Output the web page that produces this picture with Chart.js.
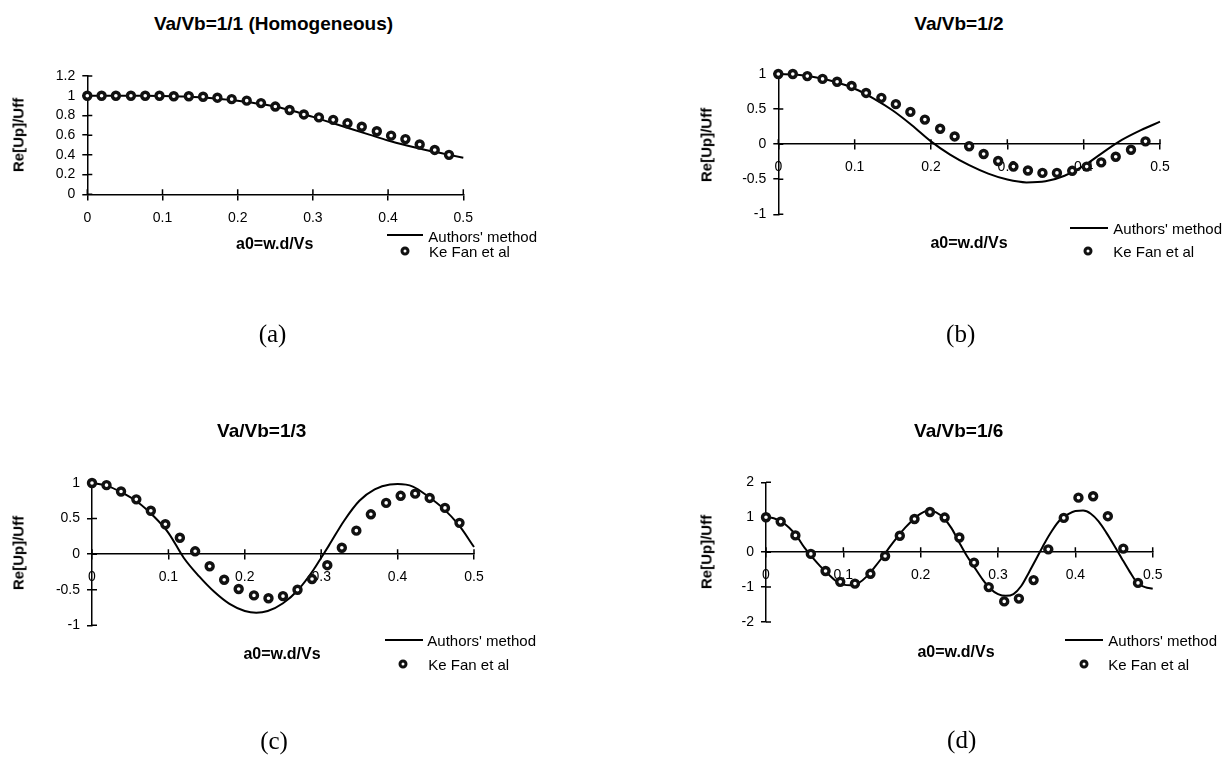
<!DOCTYPE html>
<html>
<head>
<meta charset="utf-8">
<script src="https://cdn.jsdelivr.net/npm/chart.js@4.4.1/dist/chart.umd.min.js"></script>
<style>
  body { margin: 0; background: #fff; width: 1226px; height: 757px; position: relative; overflow: hidden;
         font-family: 'Liberation Sans', Arial, sans-serif; color: #000; }
  canvas { position: absolute; }
  .t { position: absolute; white-space: nowrap; line-height: 1; transform: translate(-50%, -50%); }
  .ttl { font-weight: bold; font-size: 19px; }
  .ax { font-weight: bold; font-size: 16px; }
  .yax { font-weight: bold; font-size: 15px; transform: translate(-50%, -50%) rotate(-90deg); }
  .leg { font-size: 15px; transform: translateY(-50%); }
  .legline { position: absolute; height: 2px; background: #000; transform: translateY(-50%); }
  .legdot { position: absolute; width: 3px; height: 3px; border: 3.5px solid #111; border-radius: 50%;
            background: #fff; transform: translate(-50%, -50%); }
  .cap { font-family: 'Liberation Serif', 'Times New Roman', serif; font-size: 25px; }
</style>
</head>
<body>
<script>
// ==============================
// DATA
// ==============================
const xTicks = [0, 0.1, 0.2, 0.3, 0.4, 0.5];
const yTicksA = [0, 0.2, 0.4, 0.6, 0.8, 1, 1.2];
const yTicksB = [-1, -0.5, 0, 0.5, 1];
const yTicksC = [-1, -0.5, 0, 0.5, 1];
const yTicksD = [-2, -1, 0, 1, 2];

// Ke Fan et al - same a0 values in every panel
const keFanX = [0, 0.019, 0.038, 0.058, 0.077, 0.096, 0.115, 0.135, 0.154, 0.173, 0.192, 0.212, 0.231,
                0.25, 0.269, 0.288, 0.308, 0.327, 0.346, 0.365, 0.385, 0.404, 0.423, 0.442, 0.462, 0.481];
const keFanA = [1.0, 1.0, 1.0, 1.0, 1.0, 1.0, 0.995, 0.995, 0.99, 0.98, 0.965, 0.95, 0.925,
                0.89, 0.855, 0.81, 0.78, 0.755, 0.72, 0.685, 0.64, 0.595, 0.56, 0.505, 0.45, 0.40];
const keFanB = [1.0, 1.0, 0.97, 0.93, 0.89, 0.83, 0.73, 0.66, 0.57, 0.46, 0.35, 0.22, 0.11,
                -0.03, -0.14, -0.24, -0.32, -0.375, -0.41, -0.41, -0.38, -0.32, -0.26, -0.18, -0.08, 0.04];
const keFanC = [1.0, 0.97, 0.88, 0.77, 0.61, 0.42, 0.23, 0.04, -0.17, -0.36, -0.49, -0.58, -0.62,
                -0.59, -0.50, -0.35, -0.155, 0.09, 0.33, 0.56, 0.72, 0.82, 0.85, 0.79, 0.65, 0.44];
const keFanD = [1.0, 0.875, 0.48, -0.05, -0.54, -0.85, -0.90, -0.62, -0.11, 0.47, 0.95, 1.15, 0.99,
                0.42, -0.30, -1.0, -1.41, -1.33, -0.80, 0.08, 0.98, 1.56, 1.60, 1.03, 0.10, -0.88];

// Authors' method
const authorsXA = [0, 0.025, 0.05, 0.075, 0.1, 0.125, 0.15, 0.175, 0.2, 0.225, 0.25, 0.275, 0.3,
                   0.325, 0.35, 0.375, 0.4, 0.425, 0.45, 0.475, 0.5];
const authorsYA = [1.0, 1.0, 1.0, 1.0, 0.998, 0.993, 0.985, 0.97, 0.948, 0.922, 0.89, 0.842, 0.785,
                   0.725, 0.665, 0.605, 0.545, 0.495, 0.45, 0.41, 0.37];
const authorsXB = [0, 0.025, 0.05, 0.075, 0.1, 0.125, 0.15, 0.175, 0.2, 0.225, 0.25, 0.275, 0.3,
                   0.325, 0.35, 0.375, 0.4, 0.425, 0.45, 0.475, 0.5];
const authorsYB = [1.0, 0.99, 0.95, 0.885, 0.79, 0.65, 0.48, 0.27, 0.04, -0.15, -0.30, -0.42, -0.505,
                   -0.545, -0.53, -0.45, -0.31, -0.12, 0.06, 0.2, 0.32];
const authorsXC = [0, 0.02, 0.04, 0.06, 0.08, 0.1, 0.12, 0.14, 0.16, 0.18, 0.2, 0.215, 0.23, 0.25,
                   0.27, 0.29, 0.3, 0.31, 0.33, 0.35, 0.37, 0.39, 0.4, 0.42, 0.44, 0.46, 0.48, 0.5];
const authorsYC = [1.0, 0.96, 0.86, 0.73, 0.54, 0.30, -0.05, -0.31, -0.53, -0.70, -0.80, -0.825, -0.80, -0.69,
                   -0.50, -0.22, -0.05, 0.12, 0.47, 0.75, 0.91, 0.98, 0.985, 0.95, 0.81, 0.64, 0.41, 0.10];
const authorsXD = [0, 0.01, 0.02, 0.03, 0.04, 0.05, 0.06, 0.07, 0.08, 0.09, 0.1, 0.11, 0.12, 0.13, 0.14,
                   0.15, 0.16, 0.17, 0.18, 0.19, 0.2, 0.21, 0.22, 0.23, 0.24, 0.25, 0.26, 0.27, 0.28, 0.29,
                   0.3, 0.31, 0.32, 0.33, 0.34, 0.35, 0.36, 0.37, 0.38, 0.39, 0.4, 0.41, 0.42, 0.43, 0.44,
                   0.45, 0.46, 0.47, 0.48, 0.49, 0.5];
const authorsYD = [1.0, 0.97, 0.87, 0.70, 0.45, 0.12, -0.15, -0.40, -0.62, -0.82, -0.93, -0.95, -0.88, -0.70, -0.44,
                   -0.16, 0.15, 0.44, 0.70, 0.93, 1.10, 1.19, 1.14, 0.97, 0.68, 0.27, -0.12, -0.45, -0.78, -1.05,
                   -1.20, -1.25, -1.20, -0.97, -0.58, -0.17, 0.25, 0.62, 0.92, 1.08, 1.18, 1.19, 1.10, 0.88, 0.56,
                   0.20, -0.18, -0.55, -0.88, -1.0, -1.05];

// ==============================
// PANELS (layout only)
// ==============================
const panels = [
  { title: "Va/Vb=1/1 (Homogeneous)", caption: "(a)", yTicks: yTicksA, kf: keFanA, lx: authorsXA, ly: authorsYA,
    box: [0, 40, 613, 250], plot: [87.3, 76, 463.3, 194.3],
    tPos: [273.5, 23.3], yPos: [18, 135], xPos: [274.7, 244.3],
    leg: { line: [386.7, 423.3, 235], t1: [428.3, 235.5], dot: [405, 250.7], t2: [429, 250.7] }, cPos: [272.5, 333] },
  { title: "Va/Vb=1/2", caption: "(b)", yTicks: yTicksB, kf: keFanB, lx: authorsXB, ly: authorsYB,
    box: [613, 40, 613, 250], plot: [778.3, 74, 1160, 214.3],
    tPos: [959, 23.3], yPos: [706, 145], xPos: [969, 243.3],
    leg: { line: [1070, 1108.3, 227.7], t1: [1113.3, 227.7], dot: [1088.3, 250.7], t2: [1113.3, 250.7] }, cPos: [960.7, 333] },
  { title: "Va/Vb=1/3", caption: "(c)", yTicks: yTicksC, kf: keFanC, lx: authorsXC, ly: authorsYC,
    box: [0, 440, 613, 250], plot: [92, 483, 474, 625.3],
    tPos: [261.7, 430.3], yPos: [17.5, 552.7], xPos: [282, 653.7],
    leg: { line: [385, 423.3, 639.7], t1: [427.3, 639.7], dot: [403.3, 663.7], t2: [428.3, 663.7] }, cPos: [274, 740.3] },
  { title: "Va/Vb=1/6", caption: "(d)", yTicks: yTicksD, kf: keFanD, lx: authorsXD, ly: authorsYD,
    box: [613, 440, 613, 250], plot: [766, 482.3, 1152.7, 622],
    tPos: [958.7, 430.3], yPos: [706, 552], xPos: [956, 652],
    leg: { line: [1065, 1103.3, 639.7], t1: [1108.3, 639.7], dot: [1084, 664.3], t2: [1108.3, 664.3] }, cPos: [961.7, 738.7] }
];

const Y_AXIS_W = 40;
Chart.defaults.font.family = "'Liberation Sans', Arial, sans-serif";
Chart.defaults.color = "#000";

// plain number labels like the original: 1, 0.5, -1 (no trailing .0)
const plainNum = (v) => String(+Number(v).toFixed(2));

// Excel style ticks cross the axis: chart.js draws the outer half, this draws the inner half
const crossTicks = {
  id: "crossTicks",
  beforeDatasetsDraw(chart) {
    const { ctx, scales: { x, y } } = chart;
    const x0 = x.getPixelForValue(0);
    const y0 = y.getPixelForValue(0);
    ctx.save();
    ctx.strokeStyle = "#000";
    ctx.lineWidth = 1.5;
    ctx.beginPath();
    x.ticks.forEach((t) => {
      const px = x.getPixelForValue(t.value);
      ctx.moveTo(px, y0 - 5);
      ctx.lineTo(px, y0);
    });
    y.ticks.forEach((t) => {
      const py = y.getPixelForValue(t.value);
      ctx.moveTo(x0, py);
      ctx.lineTo(x0 + 5, py);
    });
    ctx.stroke();
    ctx.restore();
  }
};

function addText(cls, txt, left, top) {
  const el = document.createElement("div");
  el.className = "t " + cls;
  el.textContent = txt;
  el.style.left = left + "px";
  el.style.top = top + "px";
  document.body.appendChild(el);
  return el;
}

function makePanel(p) {
  const cv = document.createElement("canvas");
  cv.width = p.box[2];
  cv.height = p.box[3];
  cv.style.left = p.box[0] + "px";
  cv.style.top = p.box[1] + "px";
  document.body.appendChild(cv);

  const yt = p.yTicks;
  new Chart(cv, {
    type: "scatter",
    data: {
      datasets: [
        {
          label: "Ke Fan et al",
          data: keFanX.map((x, i) => ({ x: x, y: p.kf[i] })),
          pointRadius: 3.5,
          pointBorderWidth: 3.4,
          pointBorderColor: "#111",
          pointBackgroundColor: "#fff",
          clip: false
        },
        {
          label: "Authors' method",
          data: p.lx.map((x, i) => ({ x: x, y: p.ly[i] })),
          showLine: true,
          pointRadius: 0,
          borderColor: "#000",
          borderWidth: 2,
          cubicInterpolationMode: "monotone",
          clip: false
        }
      ]
    },
    options: {
      responsive: false,
      animation: false,
      devicePixelRatio: 1,
      layout: {
        padding: {
          left: p.plot[0] - p.box[0] - Y_AXIS_W,
          top: p.plot[1] - p.box[1],
          right: p.box[0] + p.box[2] - p.plot[2],
          bottom: p.box[1] + p.box[3] - p.plot[3]
        }
      },
      plugins: { legend: { display: false }, title: { display: false }, tooltip: { enabled: false } },
      scales: {
        x: {
          type: "linear",
          position: { y: 0 },
          min: xTicks[0],
          max: xTicks[xTicks.length - 1],
          afterBuildTicks: (s) => { s.ticks = xTicks.map((v) => ({ value: v })); },
          ticks: { padding: 10, font: { size: 14 }, color: "#000", maxRotation: 0, autoSkip: false, callback: plainNum },
          grid: { drawOnChartArea: false, tickLength: 5, color: "#000", lineWidth: 1.5 },
          border: { color: "#000", width: 1.5 }
        },
        y: {
          type: "linear",
          position: "left",
          min: yt[0],
          max: yt[yt.length - 1],
          afterBuildTicks: (s) => { s.ticks = yt.map((v) => ({ value: v })); },
          afterFit: (s) => { s.width = Y_AXIS_W; },
          ticks: { padding: 7, font: { size: 14 }, color: "#000", autoSkip: false, callback: plainNum },
          grid: { drawOnChartArea: false, tickLength: 5, color: "#000", lineWidth: 1.5 },
          border: { color: "#000", width: 1.5 }
        }
      }
    },
    plugins: [crossTicks]
  });

  // texts round the plot
  addText("ttl", p.title, p.tPos[0], p.tPos[1]);
  addText("yax", "Re[Up]/Uff", p.yPos[0], p.yPos[1]);
  addText("ax", "a0=w.d/Vs", p.xPos[0], p.xPos[1]);
  addText("cap", p.caption, p.cPos[0], p.cPos[1]);

  // legend
  const ln = document.createElement("div");
  ln.className = "legline";
  ln.style.left = p.leg.line[0] + "px";
  ln.style.width = (p.leg.line[1] - p.leg.line[0]) + "px";
  ln.style.top = p.leg.line[2] + "px";
  document.body.appendChild(ln);
  addText("leg", "Authors' method", p.leg.t1[0], p.leg.t1[1]);

  const dot = document.createElement("div");
  dot.className = "legdot";
  dot.style.left = p.leg.dot[0] + "px";
  dot.style.top = p.leg.dot[1] + "px";
  document.body.appendChild(dot);
  addText("leg", "Ke Fan et al", p.leg.t2[0], p.leg.t2[1]);
}

panels.forEach(makePanel);
</script>
</body>
</html>
